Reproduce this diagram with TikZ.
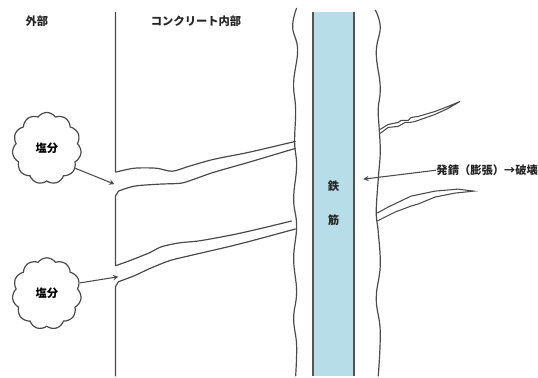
\documentclass[tikz,border=0pt]{standalone}
\usepackage{fontspec}
\newfontfamily\jpfont{Noto Sans CJK JP}
\usetikzlibrary{shapes.symbols}

\definecolor{linegray}{HTML}{4A4A4A}
\definecolor{rebarblue}{HTML}{B7DDE8}
\definecolor{rebaredge}{HTML}{555555}

\tikzset{every picture/.style={line width=0.75pt}}
\tikzset{
  label/.style={font=\jpfont\bfseries\fontsize{8.5}{10}\selectfont, text=black!85, inner sep=0pt},
  salt/.style={cloud, cloud puffs=11, cloud puff arc=110, draw=linegray, line width=0.9pt,
    minimum width=52pt, minimum height=54pt, font=\jpfont\bfseries\fontsize{8.5}{10}\selectfont},
  edge/.style={draw=linegray, line width=0.9pt},
  pointer/.style={draw=linegray, line width=0.8pt, -stealth}
}

\begin{document}
\begin{tikzpicture}[x=0.75pt,y=0.75pt,yscale=-1,xscale=1]
	\path (0,0) rectangle (538,378); %picture frame

	%Shape: Rebar [id:rebar]
	\fill [rebarblue] (314,12) rectangle (356,378);
	\draw [rebaredge, line width=1.5pt] (314,12) -- (314,378) (356,12) -- (356,378);
	% Text Node
	\node [label] (tetsu) at (335,187) {鉄};
	% Text Node
	\node [label] (kin) at (335,221) {筋};

	%Shape: Surface line with cracks [id:surface]
	\draw [edge] (116,12) -- (116,173) plot [smooth, tension=0.5] coordinates {(116,173) (135,169) (157,169) (173,172) (190,167) (215,160) (250,153) (297,142)};
	\draw [edge] plot [smooth, tension=0.5] coordinates {(297,149) (250,163) (215,173) (195,180) (182,184) (160,185) (135,187) (119,192)} -- (116,197) -- (116,267)
	  plot [smooth, tension=0.5] coordinates {(116,267) (130,262) (150,254) (162,248) (180,244) (200,242) (233,236) (260,230) (293,222)};
	\draw [edge] plot [smooth, tension=0.5] coordinates {(297,230) (260,240) (233,247) (190,257) (170,262) (150,270) (135,277) (119,283)} -- (116,288) -- (116,378);

	%Shape: Wavy edge left of rebar [id:waveL]
	\draw [edge] plot [smooth, tension=0.7] coordinates {(298,8) (294,27) (299,50) (295,83) (297,110) (296,143) (298,167) (295,200) (298,227) (295,260) (298,293) (295,320) (298,347) (297,378)};
	%Shape: Wavy edge right of rebar [id:waveR]
	\draw [edge] plot [smooth, tension=0.7] coordinates {(377,10) (382,27) (378,53) (382,87) (380,110) (381,130) (382,153) (380,180) (378,213) (380,233) (382,267) (378,300) (382,333) (380,378)};

	%Shape: Crack upper right [id:crackA]
	\draw [edge, line width=0.8pt] (382,130) -- (390,125) -- (400,123) -- (403,121) -- (410,121) -- (413,118) -- (420,117) -- (437,112) -- (450,107) -- (462,102)
	  -- (450,109) -- (437,115) -- (417,122) -- (412,123) -- (407,123) -- (400,127) -- (390,128) -- (382,134);
	%Shape: Crack lower right [id:crackB]
	\draw [edge, line width=0.8pt] (379,214) -- (390,208) -- (413,197) -- (437,192) -- (460,190) -- (476,192)
	  -- (457,194) -- (437,198) -- (420,205) -- (413,207) -- (397,213) -- (379,222);

	%Shape: Cloud [id:salt1]
	\node [salt] (salt1) at (47,149) {塩分};
	%Shape: Cloud [id:salt2]
	\node [salt] (salt2) at (47,295) {塩分};

	% Text Node
	\node [label] (outside) at (37,21) {外部};
	% Text Node
	\node [label] (inside) at (197,21) {コンクリート内部};
	% Text Node
	\node [label, anchor=west] (rust) at (438,171) {発錆（膨張）→破壊};

	\coordinate (gap1) at (115,185);
	\coordinate (gap2) at (119,278);
	\coordinate (bar) at (365,180);
	\draw [pointer] (salt1.-35) -- (gap1);
	\draw [pointer] (salt2.18) -- (gap2);
	\draw [pointer] (rust.west) -- (bar);

\end{tikzpicture}
\end{document}
